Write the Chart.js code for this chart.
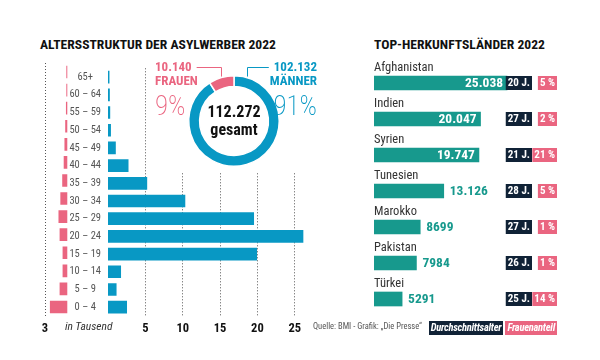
<!DOCTYPE html>
<html lang="de">
<head>
<meta charset="utf-8">
<script src="https://cdn.jsdelivr.net/npm/chart.js@4.4.0/dist/chart.umd.min.js"></script>
<style>
  html, body { margin: 0; padding: 0; background: #fff; }
  body { width: 600px; height: 360px; position: relative; overflow: hidden;
         font-family: Roboto, "Open Sans", sans-serif; font-stretch: 75%; }
  canvas, .txt { position: absolute; white-space: nowrap; }
  .title { font-weight: bold; font-size: 13.6px; color: #111; top: 36px; }
  .tags { position: absolute; top: 321px; right: 43px; display: flex; gap: 2px; }
  .tags span { height: 14px; line-height: 14px; color: #fff; font-weight: bold; font-style: italic;
               font-size: 10.5px; letter-spacing: -0.25px; padding: 0 2px; }
</style>
</head>
<body>
<div class="txt title" style="left:40px">ALTERSSTRUKTUR DER ASYLWERBER 2022</div>
<div class="txt title" style="left:374px">TOP-HERKUNFTSLÄNDER 2022</div>

<canvas id="female" width="38" height="285" style="left:30px;top:55px"></canvas>
<canvas id="male" width="245" height="285" style="left:68px;top:55px"></canvas>
<canvas id="donut" width="180" height="117" style="left:150px;top:55px;background:#fff"></canvas>
<canvas id="countries" width="240" height="280" style="left:360px;top:47px"></canvas>

<div class="txt" style="left:65px;top:319px;font-style:italic;font-size:11.5px;color:#333">in Tausend</div>
<div class="txt" style="left:313px;top:321px;font-size:8.5px;color:#555">Quelle: BMI - Grafik: „Die Presse“</div>
<div class="tags"><span style="background:#102236">Durchschnittsalter</span><span style="background:#ea6580">Frauenanteil</span></div>

<script>
const FONT = 'Roboto, "Open Sans", sans-serif';
const PINK = '#ea6580';
const CYAN = '#0898c4';
const TEAL = '#17998d';
const NAVY = '#102236';

// Altersstruktur (in Tausend)
const ageGroups = ['65+', '60 – 64', '55 – 59', '50 – 54', '45 – 49', '40 – 44', '35 – 39',
                   '30 – 34', '25 – 29', '20 – 24', '15 – 19', '10 – 14', '5 – 9', '0 – 4'];
const femaleAge = [0.1, 0.1, 0.15, 0.25, 0.35, 0.45, 0.65, 0.9, 1.15, 1.0, 0.6, 0.6, 1.0, 2.3];
const maleAge = [0.15, 0.2, 0.25, 0.35, 1.0, 2.7, 5.2, 10.3, 19.5, 26.1, 19.9, 1.7, 1.1, 2.5];
const femaleTicks = [3];
const maleTicks = [5, 10, 15, 20, 25];

// Geschlecht
const genderNames = ['MÄNNER', 'FRAUEN'];
const genderTotals = [102132, 10140];

// Herkunftsländer
const countries = ['Afghanistan', 'Indien', 'Syrien', 'Tunesien', 'Marokko', 'Pakistan', 'Türkei'];
const countryTotals = [25038, 20047, 19747, 13126, 8699, 7984, 5291];
const avgAge = [20, 27, 21, 28, 27, 26, 25];
const femaleShare = [5, 2, 21, 5, 1, 1, 14];

function deNum(n) {
  if (n < 10000) return String(n);
  return String(n).replace(/\B(?=(\d{3})+(?!\d))/g, '.');
}
// schmale Schrift auch im Canvas ("condensed" im font-String)
const cfont = (weight, size) => 'condensed ' + weight + ' ' + size + 'px ' + FONT;

const noPlugins = { legend: { display: false }, tooltip: { enabled: false } };

function ageScaleX(ticks, max, reverse) {
  return {
    min: 0, max: max, reverse: reverse,
    afterBuildTicks: s => { s.ticks = ticks.map(v => ({ value: v })); },
    afterFit: s => { s.height = 24; },
    grid: { color: '#555', lineWidth: 1, drawTicks: false },
    border: { display: false, dash: [1, 2] },
    ticks: { padding: 5, color: '#111', font: { family: FONT, weight: 'condensed bold', size: 12.5 } }
  };
}

// Frauen, nach links
new Chart(document.getElementById('female'), {
  type: 'bar',
  data: { labels: ageGroups, datasets: [{ data: femaleAge, backgroundColor: PINK, barThickness: 12 }] },
  options: {
    indexAxis: 'y', responsive: false, animation: false,
    layout: { padding: { top: 8, left: 15, right: 0.6, bottom: 0 } },
    plugins: noPlugins,
    scales: {
      x: ageScaleX(femaleTicks, 3, true),
      y: { display: false }
    }
  }
});

// Männer, nach rechts
new Chart(document.getElementById('male'), {
  type: 'bar',
  data: { labels: ageGroups, datasets: [{ data: maleAge, backgroundColor: CYAN, barThickness: 12 }] },
  options: {
    indexAxis: 'y', responsive: false, animation: false,
    layout: { padding: { top: 8, left: 0, right: 7, bottom: 0 } },
    plugins: noPlugins,
    scales: {
      x: ageScaleX(maleTicks, 26.5, false),
      y: {
        afterFit: s => { s.width = 40; },
        grid: { display: false, drawTicks: false }, border: { display: false },
        ticks: { crossAlign: 'center', padding: 7, color: '#555',
                 font: { family: FONT, weight: 'condensed normal', size: 10.5 } }
      }
    }
  }
});

// Ring mit Beschriftung
const donutLabels = {
  id: 'donutLabels',
  afterDraw(chart) {
    const ctx = chart.ctx;
    const arcs = chart.getDatasetMeta(0).data;
    const cx = arcs[0].x, cy = arcs[0].y, r = arcs[0].outerRadius;
    const total = genderTotals.reduce((a, b) => a + b, 0);
    ctx.save();
    ctx.fillStyle = '#111';
    ctx.textAlign = 'center';
    ctx.textBaseline = 'middle';
    ctx.font = cfont('bold', 16);
    ctx.fillText(deNum(total), cx, cy - 8);
    ctx.fillText('gesamt', cx, cy + 10);

    const f = arcs[1];
    const mid = (f.startAngle + f.endAngle) / 2;
    const dx = Math.abs(Math.cos(mid) * r), ay = cy + Math.sin(mid) * r;
    const lineY = Math.round(cy - 54) + 0.5;
    [[1, -1, PINK], [0, 1, CYAN]].forEach(([i, side, col]) => {
      const textX = side < 0 ? cx - 79 : cx + 83;
      ctx.fillStyle = col;
      ctx.strokeStyle = col;
      ctx.textAlign = side < 0 ? 'left' : 'right';
      ctx.font = cfont('bold', 13);
      const num = deNum(genderTotals[i]);
      ctx.fillText(num, textX, cy - 53);
      const w = ctx.measureText(num).width;
      ctx.fillText(genderNames[i], textX, cy - 39);
      // Verbindungslinie
      const ax = Math.round(cx + side * dx) + 0.5;
      ctx.lineWidth = 1;
      ctx.beginPath();
      ctx.moveTo(ax, ay - 1);
      ctx.lineTo(ax, lineY);
      ctx.lineTo(textX - side * (w + 5), lineY);
      ctx.stroke();
      // Prozent
      ctx.font = cfont(200, 27);
      ctx.fillText(Math.round(genderTotals[i] / total * 100) + '%', textX, cy - 13);
    });
    ctx.restore();
  }
};

new Chart(document.getElementById('donut'), {
  type: 'doughnut',
  data: { labels: genderNames, datasets: [{ data: genderTotals, backgroundColor: [CYAN, PINK],
          borderColor: '#fff', borderWidth: 1.5 }] },
  options: {
    responsive: false, animation: false, cutout: '76%',
    layout: { padding: { left: 38, right: 50, top: 20, bottom: 5 } },
    plugins: noPlugins
  },
  plugins: [donutLabels]
});

// Herkunftsländer
const countryLabels = {
  id: 'countryLabels',
  afterDatasetsDraw(chart) {
    const ctx = chart.ctx;
    const area = chart.chartArea;
    const bars = chart.getDatasetMeta(0).data;
    ctx.save();
    ctx.textBaseline = 'middle';
    bars.forEach((bar, i) => {
      ctx.textAlign = 'left';
      ctx.fillStyle = '#333';
      ctx.font = cfont('normal', 12.5);
      ctx.fillText(countries[i], area.left, bar.y - 15);

      ctx.font = cfont('bold', 13.5);
      const val = deNum(countryTotals[i]);
      if (bar.x - bar.base > 80) {
        ctx.textAlign = 'right';
        ctx.fillStyle = '#fff';
        ctx.fillText(val, bar.x - 4, bar.y + 0.5);
      } else {
        ctx.fillStyle = TEAL;
        ctx.fillText(val, bar.x + 6, bar.y + 0.5);
      }

      // Durchschnittsalter und Frauenanteil
      ctx.font = cfont('bold', 11);
      ctx.textAlign = 'center';
      const h = bar.height;
      [[avgAge[i] + ' J.', area.right - 28, NAVY], [femaleShare[i] + ' %', area.right - 3, PINK]]
        .forEach(([t, right, col]) => {
          const w = ctx.measureText(t).width + 4;
          ctx.fillStyle = col;
          ctx.fillRect(right - w, bar.y - h / 2, w, h);
          ctx.fillStyle = '#fff';
          ctx.fillText(t, right - w / 2, bar.y + 0.5);
        });
    });
    ctx.restore();
  }
};

new Chart(document.getElementById('countries'), {
  type: 'bar',
  data: { labels: countries, datasets: [{ data: countryTotals, backgroundColor: TEAL, barThickness: 14 }] },
  options: {
    indexAxis: 'y', responsive: false, animation: false,
    layout: { padding: { left: 14, right: 40, top: 18, bottom: 10 } },
    plugins: noPlugins,
    scales: {
      x: { display: false, min: 0, max: 35000 },
      y: { display: false }
    }
  },
  plugins: [countryLabels]
});
</script>
</body>
</html>
